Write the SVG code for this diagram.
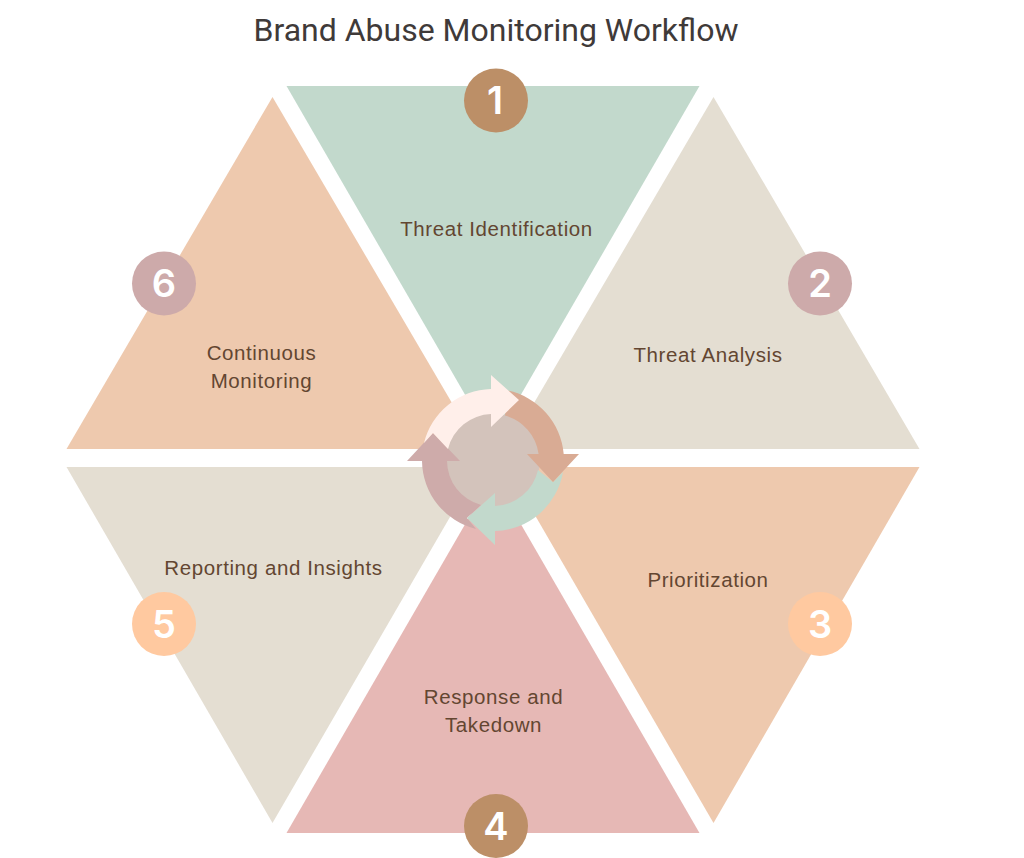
<svg xmlns="http://www.w3.org/2000/svg" width="1024" height="858" viewBox="0 0 1024 858">
<style>
.title{font:400 32px Roboto,sans-serif;fill:#3f3a39;text-anchor:middle}
.label{font:400 20.5px "Liberation Sans",Arial,sans-serif;letter-spacing:.6px;fill:#634631;text-anchor:middle}
.num{font:600 38px Inter,"Liberation Sans",sans-serif;fill:#fff;text-anchor:middle}
</style>
<rect width="1024" height="858" fill="#fff"/>
<text class="title" x="496" y="41">Brand Abuse Monitoring Workflow</text>
<g id="node-1"><path d="M286.500 86H699.500L493 443Z" fill="#c2d9cc"/><circle cx="496" cy="100.500" r="32" fill="#bc8f67"/><text class="num" x="495" y="114">1</text><text class="label" x="496.500" y="236">Threat Identification</text></g>
<g id="node-2"><path d="M713.500 97L919.500 449H507Z" fill="#e4ded2"/><circle cx="820" cy="283.500" r="32" fill="#cdaaaa"/><text class="num" x="820" y="297">2</text><text class="label" x="708" y="362">Threat Analysis</text></g>
<g id="node-3"><path d="M919.500 467L713.500 823L507 467Z" fill="#eec9ae"/><circle cx="820" cy="624" r="32" fill="#ffc9a0"/><text class="num" x="820" y="638">3</text><text class="label" x="708" y="586.500">Prioritization</text></g>
<g id="node-4"><path d="M286.500 833H699.500L493 476Z" fill="#e6b8b5"/><circle cx="496" cy="826" r="32" fill="#bc8f67"/><text class="num" x="496" y="840">4</text><text class="label"><tspan x="493.500" y="704">Response and</tspan><tspan x="493.500" y="732">Takedown</tspan></text></g>
<g id="node-5"><path d="M66.500 467H479L272.500 823Z" fill="#e4ded2"/><circle cx="164" cy="624" r="32" fill="#ffc9a0"/><text class="num" x="164" y="638">5</text><text class="label" x="273.500" y="575">Reporting and Insights</text></g>
<g id="node-6"><path d="M272.500 97L479 449H66.500Z" fill="#eec9ae"/><circle cx="164" cy="283.500" r="32" fill="#cdaaaa"/><text class="num" x="164" y="297">6</text><text class="label"><tspan x="261.500" y="360">Continuous</tspan><tspan x="261.500" y="388">Monitoring</tspan></text></g>
<g id="connectors">
<circle cx="493" cy="460" r="47" fill="#d3c3bb"/>
<!-- ring segments, stacked so each arrowhead covers the next tail -->
<path d="M422 461A71 71 0 0 0 476 529L467 518L481 505A46 46 0 0 1 447 461H460L433 433L407 461Z" fill="#ceabaa"/>
<path d="M563 472A71 71 0 0 1 495 531V545L467 518L495 493V506A46 46 0 0 0 538 470L553 482Z" fill="#c2d9cc"/>
<path d="M507 390.400A71 71 0 0 1 563.700 454H579L553 482L527 454H538.600A46 46 0 0 0 505 415.600Z" fill="#d9ab94"/>
<path d="M424 443A71 71 0 0 1 491 389V375L519 400L491 427V414A46 46 0 0 0 448 449L433 433Z" fill="#ffefea"/>
</g>
</svg>
